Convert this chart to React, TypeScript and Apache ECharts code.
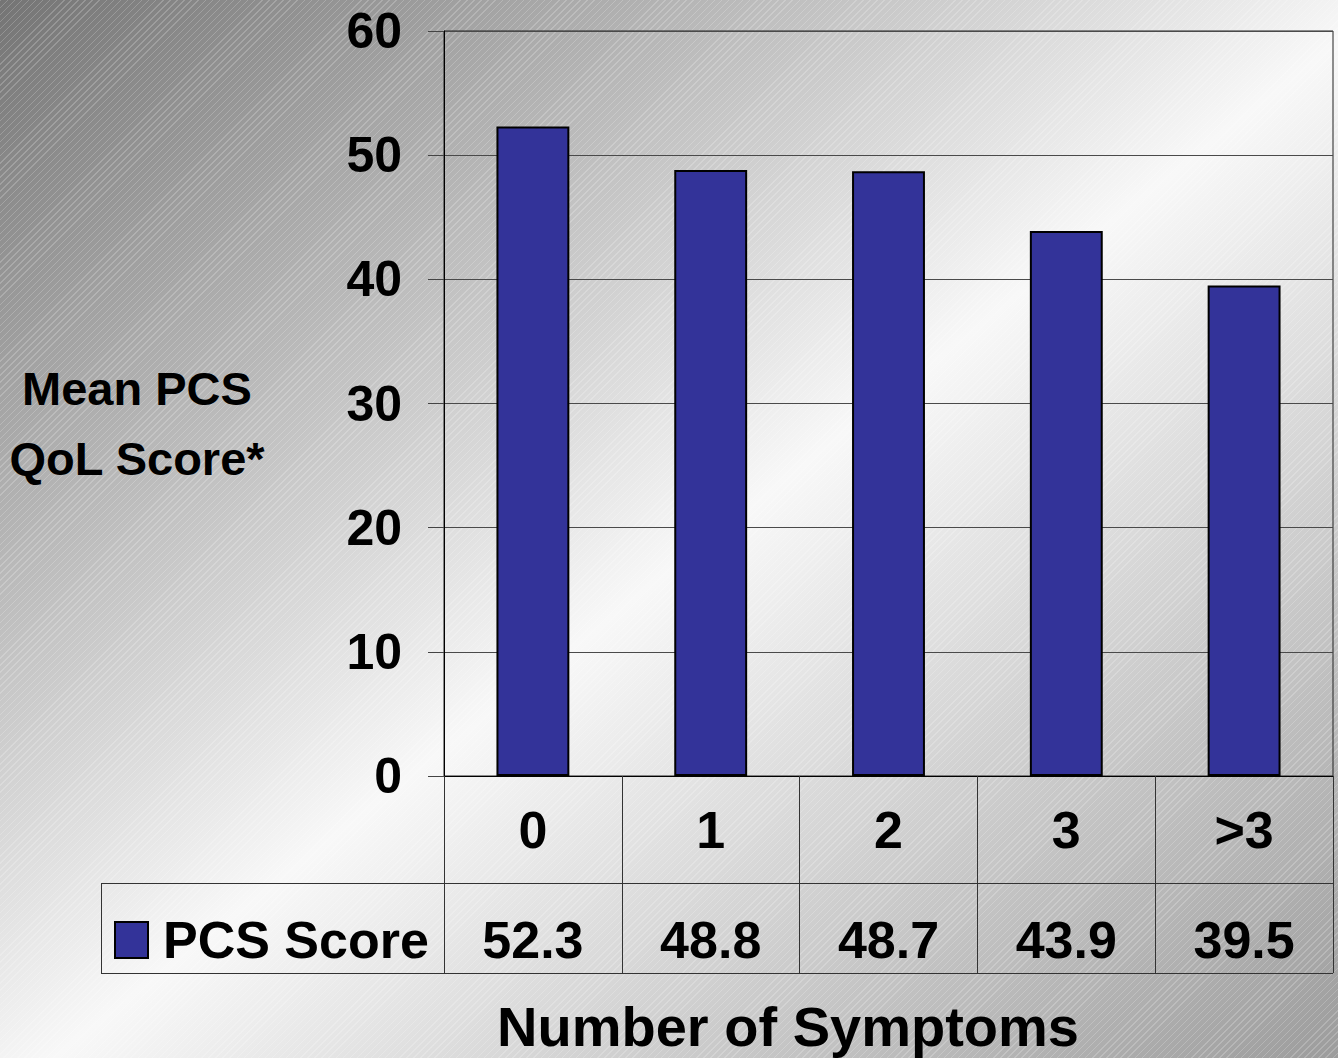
import React, { useEffect, useRef } from "react";
import * as echarts from "echarts";

const categories = ["0", "1", "2", "3", ">3"];
const pcsScores = [52.3, 48.8, 48.7, 43.9, 39.5];
const seriesName = "PCS Score";
const yTicks = { min: 0, max: 60, interval: 10 };
const xTitle = "Number of Symptoms";
const yTitle = "Mean PCS\nQoL Score*";

const FONT = "'Liberation Sans', Arial, sans-serif";
const BAR = "#333399";
const LINE = "#333";

export default function App() {
  const ref = useRef<HTMLDivElement>(null);
  useEffect(() => {
    const chart = echarts.init(ref.current!, null, { renderer: "svg" });
    const axisCommon = {
      type: "category" as const,
      data: categories,
      position: "bottom" as const,
      axisLine: { show: true, lineStyle: { color: "#000", width: 1 } },
      axisTick: { show: true, alignWithLabel: false, interval: 0, lineStyle: { color: LINE, width: 1 } },
    };
    chart.setOption({
      animation: false,
      backgroundColor: "transparent",
      grid: {
        left: 444, top: 31, right: 5, bottom: 282,
        containLabel: false, outerBoundsMode: "none",
        show: true, borderColor: "#222", borderWidth: 1, backgroundColor: "transparent",
      },
      xAxis: [
        {
          ...axisCommon,
          axisTick: { ...axisCommon.axisTick, length: 107 },
          axisLabel: { interval: 0, margin: 28, fontFamily: FONT, fontWeight: "bold", fontSize: 52, lineHeight: 52, color: "#000" },
        },
        {
          ...axisCommon,
          offset: 107,
          axisLine: { show: true, lineStyle: { color: LINE, width: 1 } },
          axisTick: { ...axisCommon.axisTick, length: 90 },
          axisLabel: {
            interval: 0, margin: 31, fontFamily: FONT, fontWeight: "bold", fontSize: 52, lineHeight: 52, color: "#000",
            formatter: (_v: string, i: number) => pcsScores[i].toFixed(1),
          },
        },
      ],
      yAxis: {
        type: "value",
        min: yTicks.min,
        max: yTicks.max,
        interval: yTicks.interval,
        axisLine: { show: true, lineStyle: { color: "#000", width: 1 } },
        axisTick: { show: true, length: 16, lineStyle: { color: "#444" } },
        axisLabel: { margin: 42, fontFamily: FONT, fontWeight: "bold", fontSize: 50, color: "#000" },
        splitLine: { show: true, lineStyle: { color: "#4a4a4a", width: 1 } },
      },
      series: [
        {
          name: seriesName,
          type: "bar",
          xAxisIndex: 0,
          data: pcsScores,
          barWidth: "41%",
          itemStyle: { color: BAR, borderColor: "#000", borderWidth: 2 },
        },
      ],
      graphic: [
        { type: "line", shape: { x1: 101, y1: 883.5, x2: 444, y2: 883.5 }, style: { stroke: LINE, lineWidth: 1 } },
        { type: "line", shape: { x1: 101, y1: 973.5, x2: 1333, y2: 973.5 }, style: { stroke: LINE, lineWidth: 1 } },
        { type: "line", shape: { x1: 101.5, y1: 883, x2: 101.5, y2: 974 }, style: { stroke: LINE, lineWidth: 1 } },
        { type: "rect", shape: { x: 115, y: 922, width: 33, height: 36 }, style: { fill: BAR, stroke: "#000", lineWidth: 2 } },
        { type: "text", x: 163, y: 940, style: { text: seriesName, font: `bold 52px ${FONT}`, fill: "#000", textAlign: "left", textVerticalAlign: "middle" } },
        { type: "text", x: 137, y: 423, style: { text: yTitle, font: `bold 47px ${FONT}`, lineHeight: 70, fill: "#000", textAlign: "center", textVerticalAlign: "middle" } },
        { type: "text", x: 788, y: 1026, style: { text: xTitle, font: `bold 56px ${FONT}`, fill: "#000", textAlign: "center", textVerticalAlign: "middle" } },
      ],
    });
    return () => chart.dispose();
  }, []);
  return (
    <div
      style={{
        position: "absolute",
        left: 0,
        top: 0,
        width: 1338,
        height: 1058,
        backgroundImage:
          "repeating-linear-gradient(135deg, rgba(255,255,255,0.2) 0px, rgba(255,255,255,0.2) 1px, rgba(255,255,255,0) 1px, rgba(255,255,255,0) 5px), linear-gradient(to bottom right, #747474 0%, #f8f8f8 52%, #9c9c9c 100%)",
      }}
    >
      <div ref={ref} style={{ width: 1338, height: 1058 }} />
    </div>
  );
}
